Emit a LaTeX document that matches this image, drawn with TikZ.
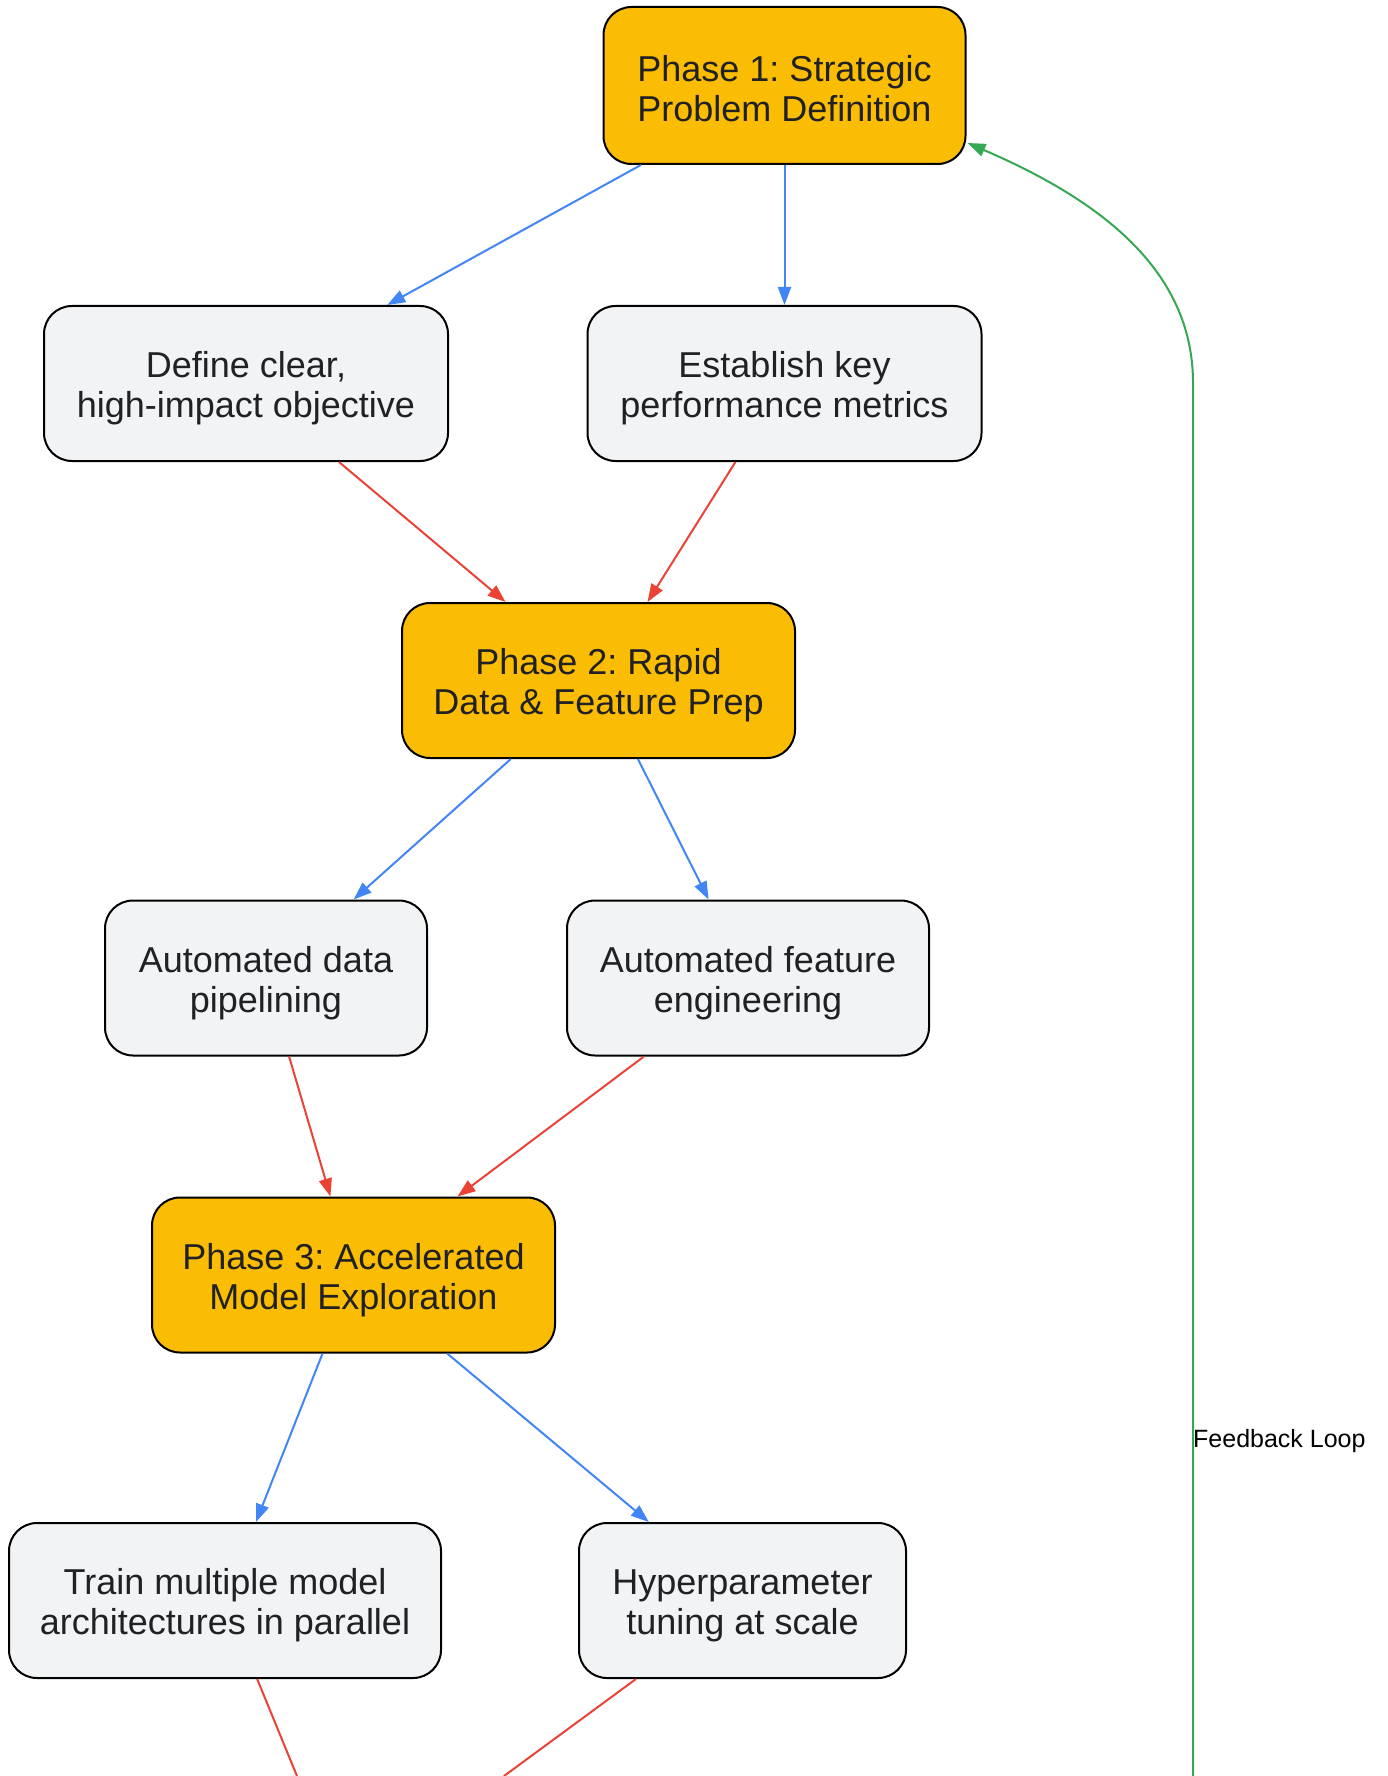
\documentclass[tikz,border=0pt]{standalone}
\usepackage{fontspec}
\setmainfont{Liberation Sans}
\frenchspacing
\usetikzlibrary{arrows.meta,calc}
\definecolor{phasefill}{HTML}{FBBC04}
\definecolor{stepfill}{HTML}{F1F3F4}
\definecolor{txt}{HTML}{202124}
\definecolor{eblue}{HTML}{4285F4}
\definecolor{ered}{HTML}{EA4335}
\definecolor{egreen}{HTML}{34A853}
\tikzset{
  box/.style={draw=black, line width=2pt, rounded corners=28pt, inner sep=0pt,
    align=center, text=txt, font=\fontsize{36}{40}\selectfont, minimum height=155pt,
    text height=73pt, text depth=5pt},
  phasebox/.style={box, fill=phasefill},
  stepbox/.style={box, fill=stepfill},
  tip/.style={-{Triangle[length=18pt,width=13pt]}},
  blueedge/.style={tip, draw=eblue, line width=2pt},
  rededge/.style={tip, draw=ered, line width=2pt},
  greenedge/.style={tip, draw=egreen, line width=2pt},
}
\begin{document}
\begin{tikzpicture}[x=1pt,y=-1pt]
\useasboundingbox (0,0) rectangle (1388,1776);
\clip (0,0) rectangle (1388,1776);

\node[phasebox, minimum width=362pt, minimum height=157pt, text height=78pt] (p1) at (784.5,85.5) {Phase 1: Strategic\\Problem Definition};
\node[stepbox, minimum width=404pt] (def) at (246,383.5) {Define clear,\\high-impact objective};
\node[stepbox, minimum width=394pt] (est) at (784.5,383.5) {Establish key\\performance metrics};
\node[phasebox, minimum width=393pt] (p2) at (598.5,680.5) {Phase 2: Rapid\\Data \& Feature Prep};
\node[stepbox, minimum width=322pt] (adp) at (266,978) {Automated data\\pipelining};
\node[stepbox, minimum width=362pt] (afe) at (748,978) {Automated feature\\engineering};
\node[phasebox, minimum width=403pt] (p3) at (353.5,1275) {Phase 3: Accelerated\\Model Exploration};
\node[stepbox, minimum width=432pt] (train) at (225,1600.5) {Train multiple model\\architectures in parallel};
\node[stepbox, minimum width=327pt] (hyp) at (742.5,1600.5) {Hyperparameter\\tuning at scale};

\coordinate (trainout) at (297,1776);
\coordinate (hypout) at (504,1776);
\coordinate (fbstart) at (1193,1790);
\coordinate (fbbend) at (1193,383);

\draw[blueedge] (p1) -- (def);
\draw[blueedge] (p1) -- (est);
\draw[rededge] (def) -- (p2);
\draw[rededge] (est) -- (p2);
\draw[blueedge] (p2) -- (adp);
\draw[blueedge] (p2) -- (afe);
\draw[rededge] (adp) -- (p3);
\draw[rededge] (afe) -- (p3);
\draw[blueedge] (p3) -- (train);
\draw[blueedge] (p3) -- (hyp);
\draw[ered, line width=2pt] (train) -- (trainout);
\draw[ered, line width=2pt] (hyp) -- (hypout);

\draw[greenedge] (fbstart) -- (fbbend) .. controls (1193,270) and (1100,200) .. ($(p1.south east)+(1,-22)$);
\node[anchor=west, inner sep=0pt, font=\fontsize{25}{28}\selectfont, text=black] (fblabel) at (1193,1441) {Feedback Loop};
\end{tikzpicture}
\end{document}
